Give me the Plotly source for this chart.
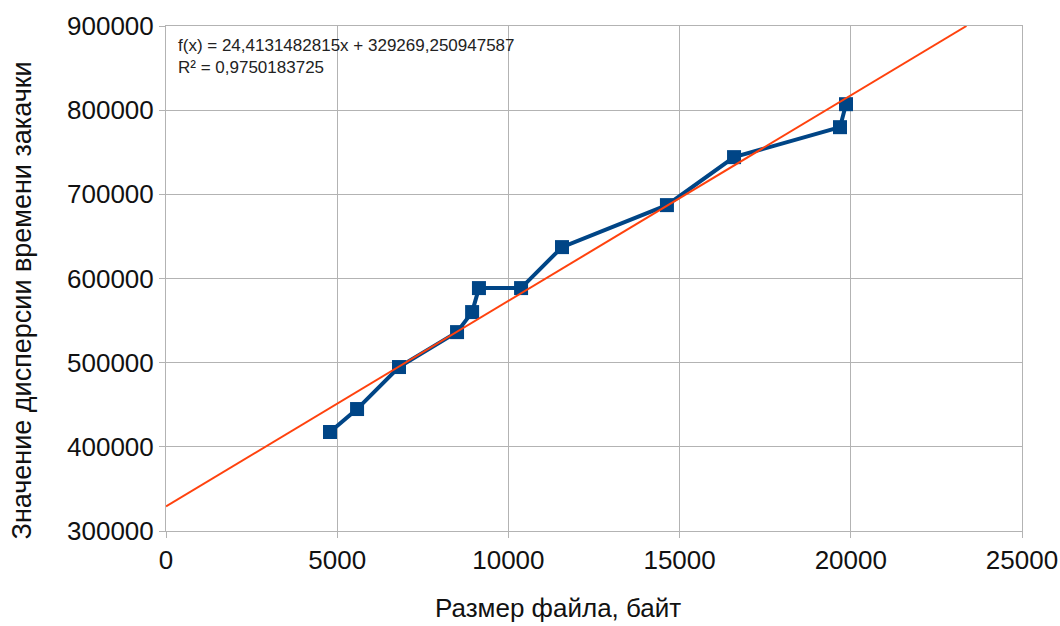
import plotly.graph_objects as go

# File size (bytes) and download-time variance
file_size = [4790, 5580, 6805, 8500, 8940, 9140, 10370, 11565, 14630, 16590, 19685, 19860]
variance = [417600, 444900, 494800, 536300, 560100, 588600, 588600, 637300, 687200, 744200, 779800, 807100]

# Linear trend coefficients
slope = 24.4131482815
intercept = 329269.250947587
r_squared = 0.9750183725

x_ticks = [0, 5000, 10000, 15000, 20000, 25000]
y_ticks = [300000, 400000, 500000, 600000, 700000, 800000, 900000]

x_min, x_max = 0, 25000
y_min, y_max = 300000, 900000

# trend line clipped to the plot frame
x_end = (y_max - intercept) / slope
trend_x = [x_min, x_end]
trend_y = [intercept + slope * v for v in trend_x]

font = "Liberation Sans, Arial, sans-serif"
grid = "#b3b3b3"

fig = go.Figure()
fig.add_trace(go.Scatter(
    x=file_size, y=variance, mode="lines+markers",
    line=dict(color="#004586", width=4),
    marker=dict(symbol="square", size=14, color="#004586"),
    showlegend=False,
))
fig.add_trace(go.Scatter(
    x=trend_x, y=trend_y, mode="lines",
    line=dict(color="#ff420e", width=2),
    showlegend=False,
))

eq_text = (f"f(x) = {str(slope).replace('.', ',')}x + {str(intercept).replace('.', ',')}"
           f"<br>R² = {str(r_squared).replace('.', ',')}")
fig.add_annotation(
    x=0.012, y=0.985, xref="paper", yref="paper", xanchor="left", yanchor="top",
    text=eq_text, showarrow=False, align="left",
    font=dict(family=font, size=17, color="#222222"),
)

# axis titles
fig.add_annotation(
    x=0.458, y=-0.152, xref="paper", yref="paper", xanchor="center", yanchor="middle",
    text="Размер файла, байт", showarrow=False,
    font=dict(family=font, size=26, color="#111111"),
)
fig.add_annotation(
    x=-0.168, y=0.457, xref="paper", yref="paper", xanchor="center", yanchor="middle",
    text="Значение дисперсии времени закачки", showarrow=False, textangle=-90,
    font=dict(family=font, size=27, color="#111111"),
)

fig.update_layout(
    width=1060, height=626,
    margin=dict(l=166, r=38, t=26, b=95),
    paper_bgcolor="white", plot_bgcolor="white",
    font=dict(family=font, color="#111111"),
)
fig.update_xaxes(
    range=[x_min, x_max], tickvals=x_ticks, ticktext=[str(v) for v in x_ticks],
    showgrid=True, gridcolor=grid, gridwidth=1,
    showline=True, linecolor=grid, mirror=True,
    ticks="outside", ticklen=6, tickcolor=grid,
    tickfont=dict(size=26, family=font), zeroline=False, automargin=False,
)
fig.update_yaxes(
    range=[y_min, y_max], tickvals=y_ticks, ticktext=[str(v) for v in y_ticks],
    showgrid=True, gridcolor=grid, gridwidth=1,
    showline=True, linecolor=grid, mirror=True,
    ticks="outside", ticklen=6, tickcolor=grid,
    tickfont=dict(size=26, family=font), zeroline=False, automargin=False,
)

fig.write_html("out.html")
